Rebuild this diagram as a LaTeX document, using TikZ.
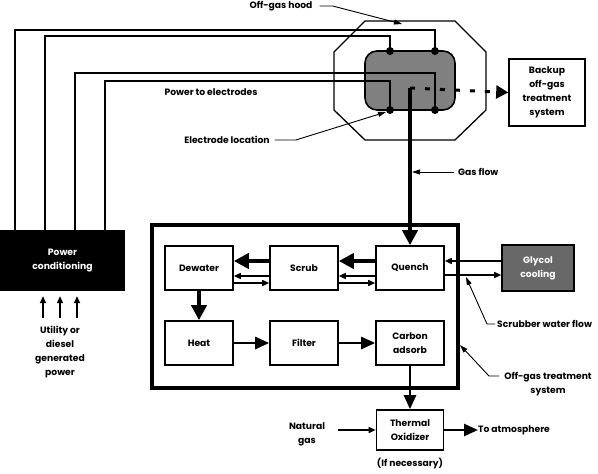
\documentclass[tikz,border=0pt]{standalone}
\usepackage{fontspec}
\setmainfont{Poppins}
\usetikzlibrary{arrows.meta}
\definecolor{furnacegray}{HTML}{808080}
\definecolor{glycolgray}{HTML}{686868}
\begin{document}
\begin{tikzpicture}[x=1pt,y=-1pt,
  font=\fontsize{9.2}{14}\selectfont\bfseries,
  box/.style={draw,line width=1.6pt,minimum width=68pt,minimum height=44pt,align=center,inner sep=1pt},
  lbl/.style={align=center,inner sep=0pt},
  wire/.style={line width=2.2pt},
  dot/.style={circle,fill=black,inner sep=0pt,minimum size=8pt},
  bigarr/.style={line width=4pt,-{Triangle[length=15pt,width=15pt]}},
  medarr/.style={line width=2.6pt,-{Triangle[length=14pt,width=12pt]}},
  thinarr/.style={line width=1.5pt,-{Triangle[length=7pt,width=6pt]}},
  leader/.style={line width=0.9pt,-{Triangle[length=8pt,width=5pt]}}
]
\useasboundingbox (0,0) rectangle (598,474);

% off-gas hood (octagon) and furnace
\draw[line width=1.3pt] (365,21) -- (455,21) -- (486,52) -- (486,110) -- (455,140)
  -- (365,140) -- (334,110) -- (334,52) -- cycle;
\node[draw,line width=1.6pt,fill=furnacegray,rounded corners=12pt,
  minimum width=90pt,minimum height=59pt] (furnace) at (410,80.5) {};

% electrodes
\node[dot] (d1) at (390,51) {};
\node[dot] (d2) at (435,51) {};
\node[dot] (d3) at (390,110) {};
\node[dot] (d4) at (435,110) {};

% power conditioning
\node[fill=black,text=white,minimum width=125pt,minimum height=61pt,align=center] (power) at (62.5,260.5) {Power\\conditioning};
\coordinate (w1) at (15,230);
\coordinate (w2) at (45,230);
\coordinate (w3) at (75,230);
\coordinate (w4) at (105,230);
\draw[wire] (w1) -- ++(0,-200) -| (d2.center);
\draw[wire] (w2) -- ++(0,-194) -| (d1.center);
\draw[wire] (w3) -- ++(0,-157) -| (d4.center);
\draw[wire] (w4) -- ++(0,-149) -| (d3.center);

% utility power
\node[lbl] (util) at (60,352) {Utility or\\diesel\\generated\\power};
\coordinate (u1) at (43,318);
\coordinate (u2) at (60,318);
\coordinate (u3) at (77,318);
\foreach \u in {u1,u2,u3}
  \draw[thinarr,shorten >=5pt] (\u) -- (\u |- power.south);

% backup system
\node[box,minimum width=76pt,minimum height=67pt] (backup) at (547,92.5) {Backup\\off-gas\\treatment\\system};
\coordinate (gas) at (410,88);
\draw[line width=3pt,dash pattern=on 5pt off 10pt,-{Triangle[length=12pt,width=13pt]}] (gas) -- (backup.west);

% off-gas treatment system
\node[draw,line width=4.5pt,minimum width=306pt,minimum height=163pt] (ogts) at (305,306.5) {};
\node[box] (dewater) at (199,268) {Dewater};
\node[box] (scrub) at (304,268) {Scrub};
\node[box] (quench) at (410,268) {Quench};
\node[box] (heat) at (199,343) {Heat};
\node[box] (filter) at (304,343) {Filter};
\node[box] (carbon) at (410,343) {Carbon\\adsorb};
\node[box,minimum width=67pt,minimum height=40pt] (thermal) at (410,430) {Thermal\\Oxidizer};
\node[box,fill=glycolgray,text=white,minimum width=72pt,minimum height=46pt] (glycol) at (538,268) {Glycol\\cooling};

% gas pipe
\draw[bigarr] (gas) -- (quench.north);

% process arrows
\draw[bigarr] ([yshift=7pt]quench.west) -- ([yshift=7pt]scrub.east);
\draw[bigarr] ([yshift=7pt]scrub.west) -- ([yshift=7pt]dewater.east);
\draw[thinarr] ([yshift=-8pt]quench.west) -- ([yshift=-8pt]scrub.east);
\draw[thinarr] ([yshift=-15pt]scrub.east) -- ([yshift=-15pt]quench.west);
\draw[thinarr] ([yshift=-8pt]scrub.west) -- ([yshift=-8pt]dewater.east);
\draw[thinarr] ([yshift=-15pt]dewater.east) -- ([yshift=-15pt]scrub.west);
\draw[bigarr] (dewater.south) -- (heat.north);
\draw[medarr] (heat.east) -- (filter.west);
\draw[medarr] (filter.east) -- (carbon.west);
\draw[medarr] (carbon.south) -- (thermal.north);

% glycol loop
\draw[thinarr] ([yshift=7pt]glycol.west) -- ([yshift=7pt]glycol.west -| quench.east);
\draw[thinarr] ([yshift=-7pt]quench.east) -- ([yshift=-7pt]quench.east -| glycol.west);

% thermal oxidizer
\node[lbl] (ng) at (307,434) {Natural\\gas};
\coordinate (ngs) at (338,430);
\draw[thinarr] (ngs) -- (thermal.west);
\node[lbl,anchor=west] (atm) at (478,430) {To atmosphere};
\draw[medarr] (thermal.east) -- (atm.west);
\node[lbl] (ifnec) at (410,464) {(If necessary)};

% labels and leaders
\node[lbl] (hoodlbl) at (281,6) {Off-gas hood};
\coordinate (hoodtip) at (402,24);
\draw[leader] ([xshift=7pt]hoodlbl.east) -- ++(13,0) -- (hoodtip);

\node[lbl] (pwrlbl) at (211,92) {Power to electrodes};

\node[lbl] (ellbl) at (227,140) {Electrode location};
\coordinate (eltip) at (386,112);
\draw[leader] ([xshift=5pt]ellbl.east) -- ++(21,0) -- (eltip);

\node[lbl,anchor=west] (gflbl) at (458,172) {Gas flow};
\coordinate (gftip) at (412,172);
\draw[leader] ([xshift=-4pt]gflbl.west) -- (gftip);

\node[lbl,anchor=west] (swlbl) at (497,324) {Scrubber water flow};
\coordinate (swtip) at (466,277);
\draw[leader] ([xshift=-2pt]swlbl.west) -- ++(-8,0) -- (swtip);

\node[lbl] (ogtlbl) at (548,384) {Off-gas treatment\\system};
\coordinate (ogt1) at (499,376);
\coordinate (ogttip) at (460,345);
\draw[leader] (ogt1) -- ++(-10,0) -- (ogttip);
\end{tikzpicture}
\end{document}
